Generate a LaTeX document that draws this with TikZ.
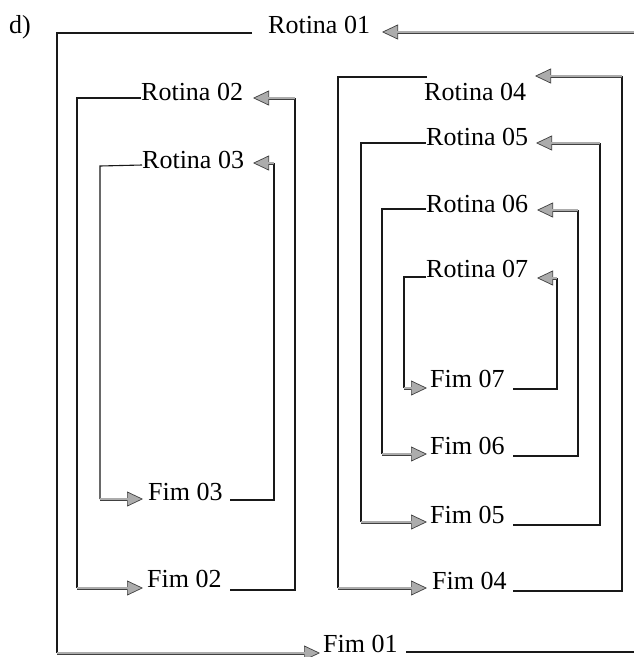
\documentclass[tikz,border=0pt]{standalone}
\usepackage{fontspec}
\setmainfont{Liberation Serif}
\usetikzlibrary{arrows.meta}
\begin{document}
\begin{tikzpicture}[x=1pt,y=-1pt,
  lbl/.style={anchor=base west,inner sep=0pt,font=\fontsize{26}{30}\selectfont},
  frm/.style={draw=black!90,line width=1.1pt},
  arr/.style={draw=black!75,line width=3pt,
     -{Triangle[length=16pt,width=15pt,fill=gray!65,color=black!75,line width=0.7pt]},
     postaction={draw=gray!65,line width=1.2pt,-,shorten >=14pt}}
]
\useasboundingbox (0,0) rectangle (634,657);
% labels
\node[lbl] (d) at (9,33) {d)};
\node[lbl] (r1) at (268,33) {Rotina 01};
\node[lbl] (r2) at (141,100) {Rotina 02};
\node[lbl] (r3) at (142,168) {Rotina 03};
\node[lbl] (r4) at (424,100) {Rotina 04};
\node[lbl] (r5) at (426,145) {Rotina 05};
\node[lbl] (r6) at (426,212) {Rotina 06};
\node[lbl] (r7) at (426,277) {Rotina 07};
\node[lbl] (f7) at (430,387) {Fim 07};
\node[lbl] (f6) at (430,454) {Fim 06};
\node[lbl] (f5) at (430,523) {Fim 05};
\node[lbl] (f4) at (432,589) {Fim 04};
\node[lbl] (f3) at (148,500) {Fim 03};
\node[lbl] (f2) at (147,587) {Fim 02};
\node[lbl] (f1) at (323,652) {Fim 01};
% frame 1
\coordinate (a1) at (252,33); \coordinate (b1) at (57,33); \coordinate (c1) at (57,653);
\coordinate (t1) at (320,653); \coordinate (s1) at (634,32); \coordinate (h1) at (382,32);
\coordinate (g1) at (406,652); \coordinate (k1) at (634,652);
\draw[frm] (a1) -- (b1) -- (c1);
\draw[arr] (c1) -- (t1);
\draw[arr] (s1) -- (h1);
\draw[frm] (g1) -- (k1);
% frame 2
\coordinate (a2) at (141,98); \coordinate (b2) at (77,98); \coordinate (c2) at (77,588);
\coordinate (t2) at (143,588); \coordinate (s2) at (295,98); \coordinate (h2) at (253,98);
\coordinate (g2) at (230,590); \coordinate (k2) at (295,590);
\draw[frm] (a2) -- (b2) -- (c2);
\draw[arr] (c2) -- (t2);
\draw[frm] (g2) -- (k2) -- (s2);
\draw[arr] (s2) -- (h2);
% frame 3
\coordinate (a3) at (142,165); \coordinate (b3) at (100,166); \coordinate (c3) at (100,499);
\coordinate (t3) at (143,499); \coordinate (s3) at (274,163); \coordinate (h3) at (253,163);
\coordinate (g3) at (230,500); \coordinate (k3) at (274,500);
\draw[frm] (a3) -- (b3) -- (c3);
\draw[arr] (c3) -- (t3);
\draw[frm] (g3) -- (k3) -- (s3);
\draw[arr] (s3) -- (h3);
% frame 4
\coordinate (a4) at (427,77); \coordinate (b4) at (338,77); \coordinate (c4) at (338,588);
\coordinate (t4) at (427,588); \coordinate (s4) at (622,76); \coordinate (h4) at (535,76);
\coordinate (g4) at (513,591); \coordinate (k4) at (622,591);
\draw[frm] (a4) -- (b4) -- (c4);
\draw[arr] (c4) -- (t4);
\draw[frm] (g4) -- (k4) -- (s4);
\draw[arr] (s4) -- (h4);
% frame 5
\coordinate (a5) at (426,143); \coordinate (b5) at (361,143); \coordinate (c5) at (361,522);
\coordinate (t5) at (427,522); \coordinate (s5) at (600,143); \coordinate (h5) at (536,143);
\coordinate (g5) at (513,525); \coordinate (k5) at (600,525);
\draw[frm] (a5) -- (b5) -- (c5);
\draw[arr] (c5) -- (t5);
\draw[frm] (g5) -- (k5) -- (s5);
\draw[arr] (s5) -- (h5);
% frame 6
\coordinate (a6) at (426,209); \coordinate (b6) at (382,209); \coordinate (c6) at (382,454);
\coordinate (t6) at (427,454); \coordinate (s6) at (578,210); \coordinate (h6) at (537,210);
\coordinate (g6) at (513,456); \coordinate (k6) at (578,456);
\draw[frm] (a6) -- (b6) -- (c6);
\draw[arr] (c6) -- (t6);
\draw[frm] (g6) -- (k6) -- (s6);
\draw[arr] (s6) -- (h6);
% frame 7
\coordinate (a7) at (426,277); \coordinate (b7) at (404,277); \coordinate (c7) at (404,388);
\coordinate (t7) at (427,388); \coordinate (s7) at (557,278); \coordinate (h7) at (537,278);
\coordinate (g7) at (513,389); \coordinate (k7) at (557,389);
\draw[frm] (a7) -- (b7) -- (c7);
\draw[arr] (c7) -- (t7);
\draw[frm] (g7) -- (k7) -- (s7);
\draw[arr] (s7) -- (h7);
\end{tikzpicture}
\end{document}
